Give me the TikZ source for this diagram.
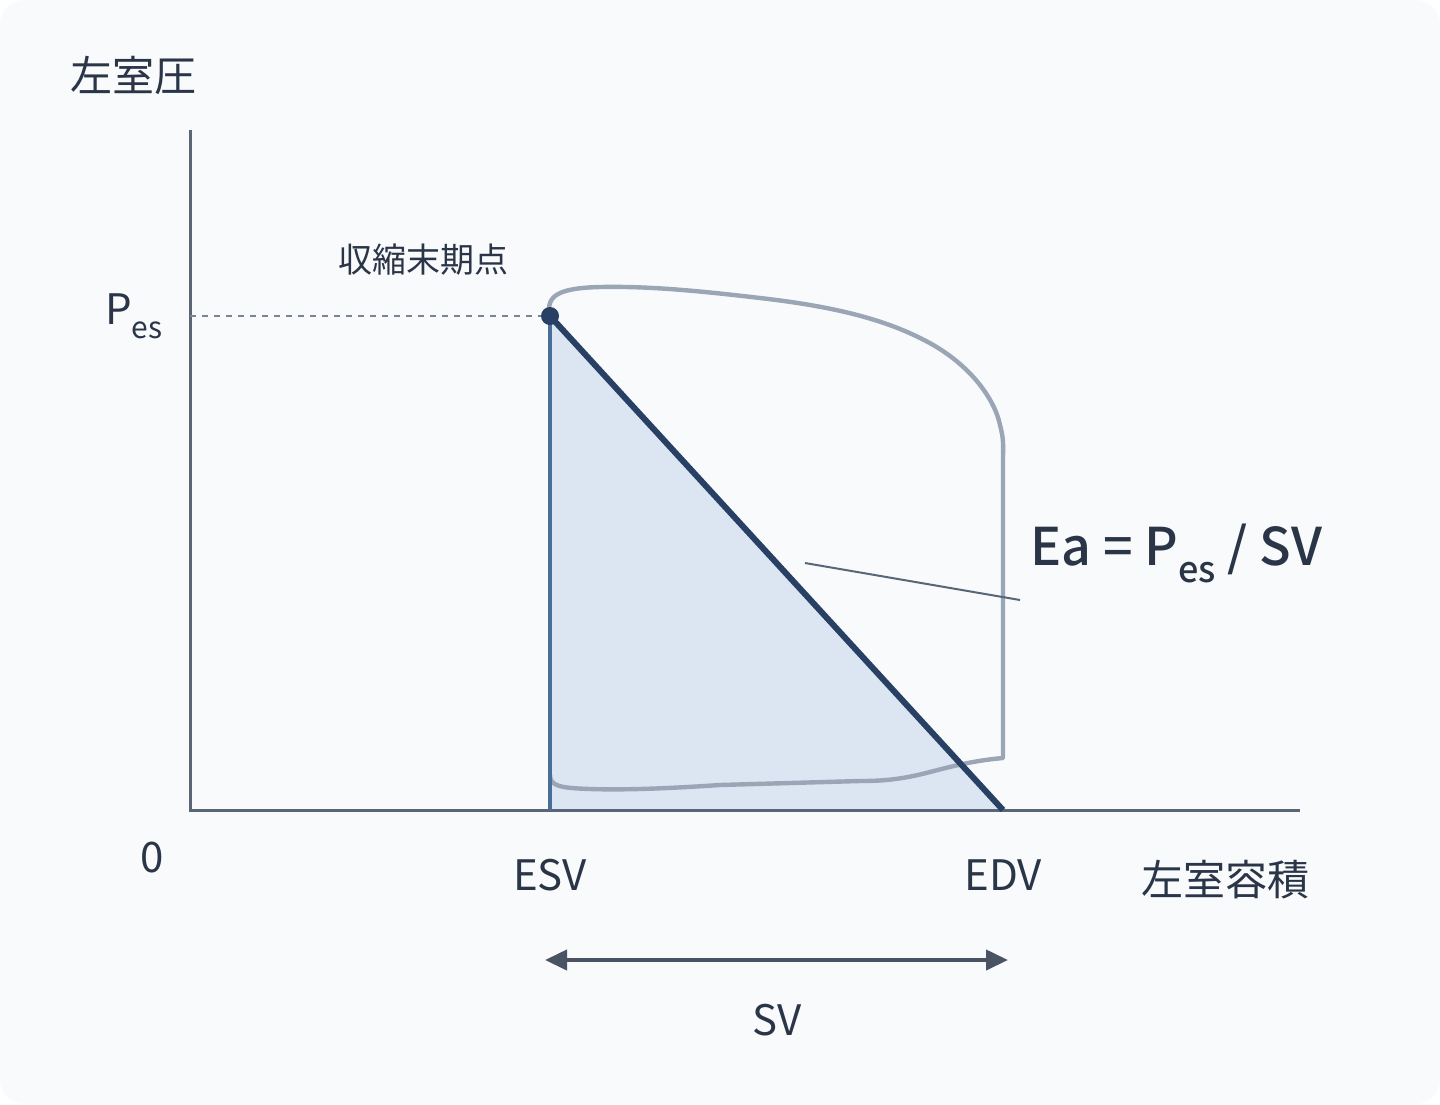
\documentclass[tikz,border=0pt]{standalone}
\usepackage{fontspec}
\setmainfont{Noto Sans CJK JP}
\newfontfamily\eafont{Noto Sans CJK JP Medium}
\usetikzlibrary{arrows.meta}
\definecolor{bg}{HTML}{F8FAFC}
\definecolor{txt}{HTML}{2A3548}
\definecolor{loopc}{HTML}{9AA5B5}
\definecolor{dark}{HTML}{274063}
\definecolor{fillc}{HTML}{DCE6F2}
\definecolor{esv}{HTML}{4A6E9A}
\definecolor{axis}{HTML}{5A6578}
\begin{document}
\begin{tikzpicture}[x=0.5pt,y=-0.5pt,
  lab/.style={text=txt,font=\fontsize{21}{24}\selectfont,inner sep=0pt},
  sml/.style={text=txt,font=\fontsize{17}{20}\selectfont,inner sep=0pt}]
\useasboundingbox (0,0) rectangle (1440,1104);
\fill[bg,rounded corners=12pt] (0,0) rectangle (1440,1104);
\coordinate (es) at (550,316);
\coordinate (ed) at (1003,810);
\coordinate (eb) at (550,810);
\fill[fillc] (es) -- (ed) -- (eb) -- cycle;
\draw[loopc,line width=2.2pt,line join=round]
 (550,316) .. controls (545,295) and (560,288) .. (600,287)
 .. controls (650,286) and (700,291) .. (760,298)
 .. controls (830,306) and (880,318) .. (920,338)
 .. controls (970,362) and (995,400) .. (1000,425)
 .. controls (1004,440) and (1003,445) .. (1003,460)
 -- (1003,758)
 .. controls (980,760) and (960,764) .. (930,772)
 .. controls (900,780) and (880,781) .. (860,781)
 -- (720,785)
 .. controls (660,789) and (620,790) .. (590,789)
 .. controls (560,788) and (550,786) .. (550,775);
\draw[axis,line width=1.5pt] (190,130) -- (190,810) -- (1300,810);
\draw[loopc!80!black,dashed,line width=0.8pt] (190,316) -- (es);
\draw[esv,line width=2pt] (es) -- (eb);
\draw[dark,line width=3pt] (es) -- (ed);
\fill[dark] (es) circle (9);
\coordinate (l1) at (805,563);
\coordinate (l2) at (1020,600);
\draw[axis,line width=1pt] (l1) -- (l2);
\coordinate (a1) at (545,960);
\coordinate (a2) at (1008,960);
\draw[txt!85!white,line width=2pt,{Triangle[length=11pt,width=10pt]}-{Triangle[length=11pt,width=10pt]}] (a1) -- (a2);
\node[lab,anchor=west] (yl) at (70,75) {左室圧};
\node[sml] (ees) at (423,260) {収縮末期点};
\node[lab,anchor=west] (pes) at (105,316) {P\raisebox{-0.6ex}{\fontsize{15}{17}\selectfont es}};
\node[lab] (zero) at (152,858) {0};
\node[lab] (esvl) at (550,875) {ESV};
\node[lab] (edvl) at (1003,875) {EDV};
\node[lab] (xl) at (1225,880) {左室容積};
\node[lab] (svl) at (777,1020) {SV};
\node[text=txt,font=\eafont\fontsize{26}{30}\selectfont,anchor=west,inner sep=0pt] (ea) at (1030,553) {Ea = P\raisebox{-0.6ex}{\fontsize{18}{20}\selectfont es} / SV};
\end{tikzpicture}
\end{document}
